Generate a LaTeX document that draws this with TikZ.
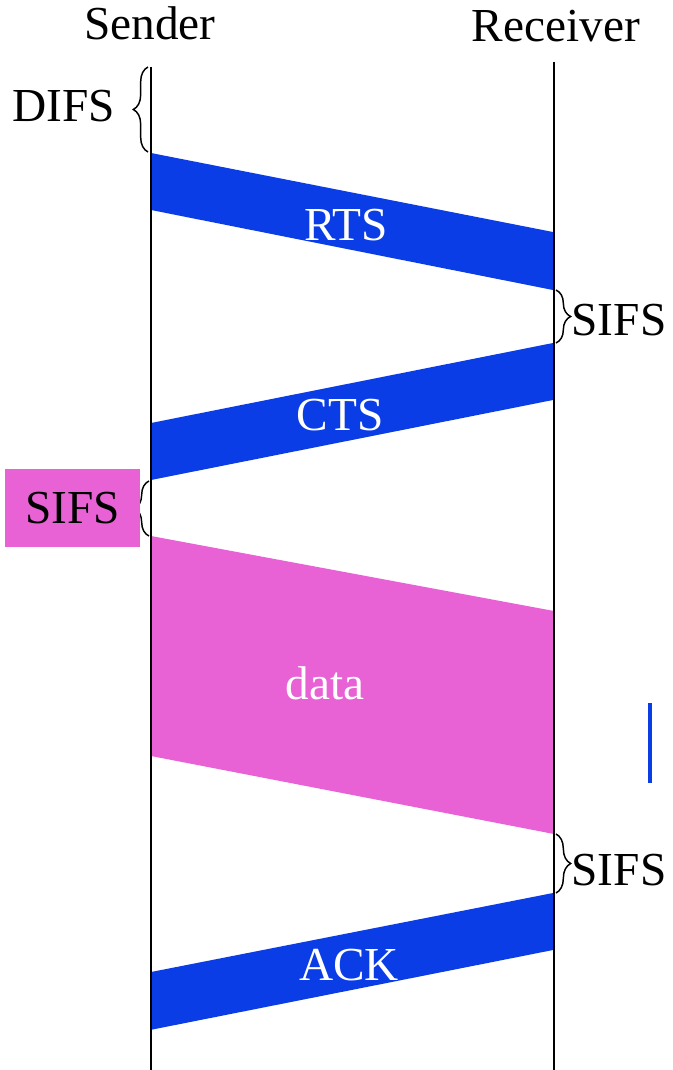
\documentclass[tikz,border=0pt]{standalone}
\usepackage{fontspec}
\setmainfont{Liberation Serif}
\usepackage{xcolor}
\usepackage{tikz}
\usetikzlibrary{decorations.pathreplacing,positioning}
\definecolor{FrameBlue}{HTML}{0A3DE6}
\definecolor{FramePink}{HTML}{E862D6}

\begin{document}
\begin{tikzpicture}[x=0.75pt,y=-0.75pt,
  lbl/.style={font=\fontsize{35.5}{40}\selectfont,inner sep=0pt,anchor=base},
  frm/.style={lbl,text=white},
  tline/.style={line width=1.2pt,draw=black},
  brc/.style={decorate,decoration={brace,amplitude=11pt},line width=1.1pt},
  sifsbox/.style={fill=FramePink,minimum width=101.25pt,minimum height=58.5pt,inner sep=0pt,font=\fontsize{35.5}{40}\selectfont}
]
\useasboundingbox (0,0) rectangle (672,1070);
% corners of the frames
\coordinate (rtsA) at (151,153); \coordinate (rtsB) at (553,232);
\coordinate (rtsC) at (553,290); \coordinate (rtsD) at (151,210);
\coordinate (ctsA) at (553,343); \coordinate (ctsB) at (553,400);
\coordinate (ctsC) at (151,480); \coordinate (ctsD) at (151,423);
\coordinate (datA) at (151,536); \coordinate (datB) at (554,611);
\coordinate (datC) at (554,834); \coordinate (datD) at (151,756);
\coordinate (ackA) at (553,893); \coordinate (ackB) at (553,950);
\coordinate (ackC) at (150,1030); \coordinate (ackD) at (151,972);
% frames
\fill[FrameBlue] (rtsA) -- (rtsB) -- (rtsC) -- (rtsD) -- cycle;
\fill[FrameBlue] (ctsA) -- (ctsB) -- (ctsC) -- (ctsD) -- cycle;
\fill[FramePink] (datA) -- (datB) -- (datC) -- (datD) -- cycle;
\fill[FrameBlue] (ackA) -- (ackB) -- (ackC) -- (ackD) -- cycle;
% time lines
\node[lbl] (sender) at (150,40) {Sender};
\node[lbl] (receiver) at (556,42) {Receiver};
\coordinate (sTop) at (151,67); \coordinate (sBot) at (151,1070);
\coordinate (rTop) at (554,62); \coordinate (rBot) at (554,1070);
\draw[tline] (sTop) -- (sBot);
\draw[tline] (rTop) -- (rBot);
% frame labels
\node[frm] (rts) at (346,240) {RTS};
\node[frm] (cts) at (340,430) {CTS};
\node[frm] (data) at (325,699) {data};
\node[frm] (ack) at (349,980) {ACK};
% spaces
\draw[brc] (148,152) -- (148,67);
\node[lbl] (difs) at (64,122) {DIFS};
\draw[brc] (556,290) -- (556,343);
\node[lbl] (sifsA) at (619,335) {SIFS};
\draw[brc] (149,536) -- (149,481);
\node[sifsbox] (sifsB) at (72.5,508) {SIFS};
\draw[brc] (556,834) -- (556,893);
\node[lbl] (sifsC) at (619,885) {SIFS};
% mark
\coordinate (mkTop) at (650,703); \coordinate (mkBot) at (650,783);
\draw[FrameBlue,line width=3.5pt] (mkTop) -- (mkBot);
\end{tikzpicture}
\end{document}
